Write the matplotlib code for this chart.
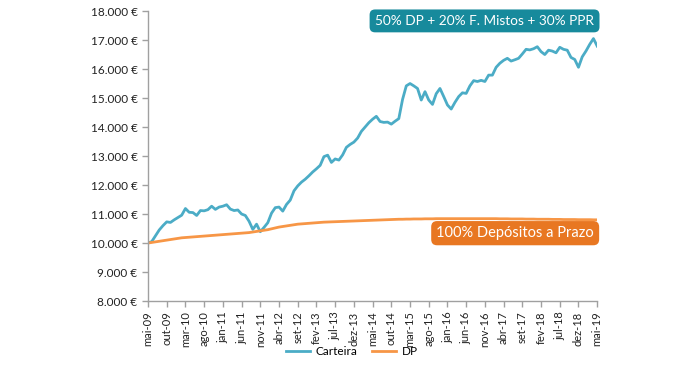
import numpy as np
import matplotlib
matplotlib.use('Agg')
import matplotlib.pyplot as plt
from matplotlib.ticker import FuncFormatter

plt.rcParams['font.family'] = ['Lato', 'DejaVu Sans']

# monthly values, mai-09 .. mai-19
carteira = [10000, 10050, 10250, 10450, 10600, 10730, 10710, 10800, 10880, 10960,
            11190, 11060, 11050, 10950, 11120, 11110, 11150, 11270, 11160, 11240,
            11270, 11320, 11170, 11120, 11140, 11000, 10950, 10750, 10470, 10650,
            10390, 10540, 10700, 11030, 11220, 11240, 11100, 11330, 11480, 11800,
            11970, 12100, 12200, 12320, 12450, 12560, 12680, 12980, 13030, 12780,
            12900, 12860, 13040, 13300, 13400, 13480, 13620, 13850, 14000, 14150,
            14270, 14370, 14190, 14160, 14170, 14100, 14200, 14290, 14950, 15420,
            15500, 15420, 15330, 14930, 15220, 14930, 14780, 15150, 15330, 15050,
            14760, 14620, 14850, 15050, 15180, 15160, 15420, 15600, 15570, 15610,
            15570, 15790, 15790, 16060, 16200, 16300, 16370, 16275, 16320, 16370,
            16520, 16680, 16660, 16700, 16770, 16600, 16500, 16650, 16620, 16560,
            16750, 16680, 16650, 16400, 16330, 16060, 16420, 16620, 16850, 17050,
            16790]

dp = [10000, 10020, 10040, 10060, 10080, 10100, 10120, 10140, 10160, 10180,
      10190, 10200, 10210, 10220, 10230, 10240, 10250, 10260, 10270, 10280,
      10290, 10300, 10310, 10320, 10330, 10340, 10350, 10360, 10380, 10400,
      10420, 10440, 10460, 10490, 10520, 10550, 10570, 10590, 10610, 10630,
      10650, 10660, 10670, 10680, 10690, 10700, 10710, 10720, 10725, 10730,
      10735, 10740, 10745, 10750, 10755, 10760, 10765, 10770, 10775, 10780,
      10785, 10790, 10795, 10800, 10805, 10810, 10815, 10820, 10820, 10825,
      10825, 10830, 10830, 10830, 10835, 10835, 10835, 10840, 10840, 10840,
      10840, 10840, 10840, 10840, 10840, 10840, 10840, 10840, 10840, 10840,
      10840, 10840, 10840, 10840, 10835, 10835, 10835, 10830, 10830, 10830,
      10830, 10825, 10825, 10825, 10820, 10820, 10820, 10820, 10815, 10815,
      10815, 10810, 10810, 10810, 10810, 10805, 10805, 10805, 10805, 10800,
      10800]

tick_labels = ['mai-09', 'out-09', 'mar-10', 'ago-10', 'jan-11', 'jun-11', 'nov-11',
               'abr-12', 'set-12', 'fev-13', 'jul-13', 'dez-13', 'mai-14', 'out-14',
               'mar-15', 'ago-15', 'jan-16', 'jun-16', 'nov-16', 'abr-17', 'set-17',
               'fev-18', 'jul-18', 'dez-18', 'mai-19']

x = np.arange(len(carteira))

fig = plt.figure(figsize=(6.9, 3.68), dpi=100)
ax = fig.add_axes([0.2145, 0.182, 0.651, 0.788])

ax.plot(x, carteira, color='#4bacc6', lw=2, label='Carteira')
ax.plot(x, dp, color='#f79646', lw=2, label='DP')

ax.set_xlim(0, 120)
ax.set_ylim(8000, 18000)
ax.set_xticks(np.arange(0, 121, 5))
ax.set_xticklabels(tick_labels, rotation=90, fontsize=8, color='#222222')
ax.set_yticks(np.arange(8000, 18001, 1000))
ax.yaxis.set_major_formatter(FuncFormatter(lambda v, p: '{:,.0f} €'.format(v).replace(',', '.')))
ax.tick_params(axis='y', labelsize=8.5, colors='#222222')
ax.tick_params(axis='both', color='#a0a0a0', length=4, width=1, direction='out')

for s in ['top', 'right']:
    ax.spines[s].set_visible(False)
for s in ['left', 'bottom']:
    ax.spines[s].set_color('#a0a0a0')
    ax.spines[s].set_linewidth(1)

ax.text(0.993, 0.966, '50% DP + 20% F. Mistos + 30% PPR', transform=ax.transAxes,
        ha='right', va='center', fontsize=9.8, color='white',
        bbox=dict(boxstyle='round,pad=0.4,rounding_size=0.4', fc='#178a9c', ec='none'))
ax.text(0.993, 0.234, '100% Depósitos a Prazo', transform=ax.transAxes,
        ha='right', va='center', fontsize=10.5, color='white',
        bbox=dict(boxstyle='round,pad=0.35,rounding_size=0.4', fc='#e87722', ec='none'))

fig.legend(loc='center', bbox_to_anchor=(0.51, 0.045), ncol=2, frameon=False,
           fontsize=8.5, handlelength=2.0, handletextpad=0.5, columnspacing=1.2)

fig.savefig('out.png', dpi=100)
